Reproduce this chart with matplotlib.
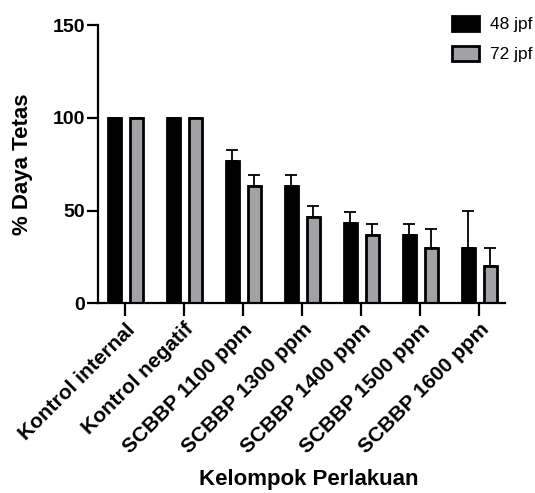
import numpy as np
import matplotlib
matplotlib.use("Agg")
import matplotlib.pyplot as plt

plt.rcParams['font.family'] = ['Liberation Sans', 'DejaVu Sans']

groups = ['Kontrol internal', 'Kontrol negatif', 'SCBBP 1100 ppm', 'SCBBP 1300 ppm',
          'SCBBP 1400 ppm', 'SCBBP 1500 ppm', 'SCBBP 1600 ppm']
series_names = ['48 jpf', '72 jpf']
vals_48 = [100, 100, 76.7, 63.3, 43.3, 36.7, 30.0]
vals_72 = [100, 100, 63.3, 46.7, 36.7, 30.0, 20.0]
err_48 = [0, 0, 5.8, 5.8, 5.8, 5.8, 20.0]
err_72 = [0, 0, 5.8, 5.8, 5.8, 10.0, 10.0]
yticks = [0, 50, 100, 150]

fig = plt.figure(figsize=(5.35, 4.93), dpi=100)
ax = fig.add_axes([0.183, 0.385, 0.761, 0.564])

x = np.arange(len(groups))
w = 0.22
off = 0.186
colors = ['black', '#a2a2a6']
for vals, errs, sign, c, name in [(vals_48, err_48, -1, colors[0], series_names[0]),
                                  (vals_72, err_72, 1, colors[1], series_names[1])]:
    xs = x + sign * off
    ax.bar(xs, vals, width=w, color=c, edgecolor='black', linewidth=2, label=name, zorder=2)
    ax.errorbar(xs, vals, yerr=[np.zeros(len(errs)), errs], fmt='none', ecolor='black',
                elinewidth=1.3, capsize=4, capthick=1.3, zorder=1)

ax.set_xlim(-0.46, 6.44)
ax.set_ylim(0, 150)
ax.set_yticks(yticks)
ax.set_xticks(x)
ax.set_xticklabels(groups, rotation=45, ha='right', rotation_mode='anchor',
                   fontsize=15, fontweight='bold')
for t in ax.get_yticklabels():
    t.set_fontsize(14)
    t.set_fontweight('bold')

for s in ['top', 'right']:
    ax.spines[s].set_visible(False)
for s in ['left', 'bottom']:
    ax.spines[s].set_linewidth(1.6)
ax.tick_params(axis='x', length=9, width=1.6, pad=3)
ax.tick_params(axis='y', length=8, width=1.6, pad=1)

ax.set_ylabel('% Daya Tetas', fontsize=16, fontweight='bold')
ax.yaxis.set_label_coords(-0.16, 0.5)
fig.text(0.578, 0.016, 'Kelompok Perlakuan', fontsize=16, fontweight='bold', ha='center')

fig.legend(loc='upper right', bbox_to_anchor=(1.025, 1.0), frameon=False, fontsize=12.5,
           handlelength=1.55, handleheight=0.95, handletextpad=0.65, labelspacing=0.8)

fig.savefig('out.png', dpi=100)
